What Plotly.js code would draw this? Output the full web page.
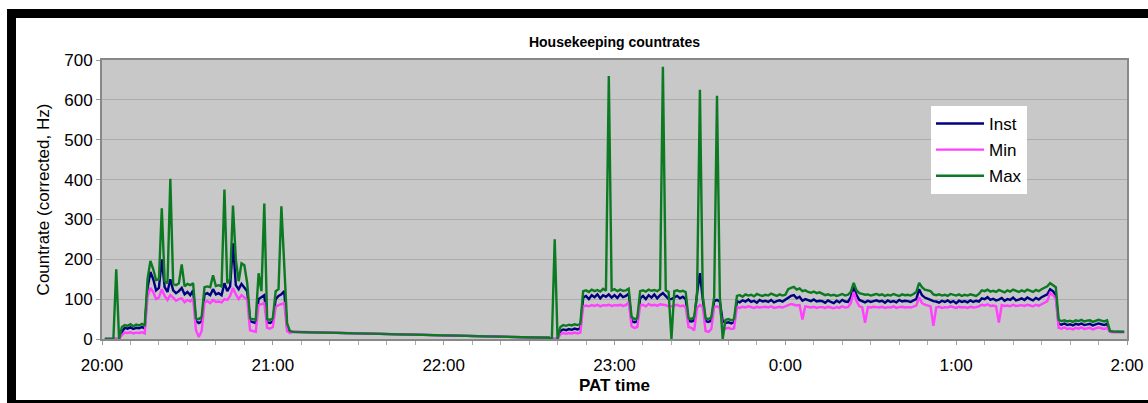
<!DOCTYPE html>
<html>
<head>
<meta charset="utf-8">
<script src="https://cdn.plot.ly/plotly-3.0.1.min.js"></script>
<style>
  html, body { margin: 0; padding: 0; background: #ffffff; overflow: hidden; }
  #chart { position: absolute; left: 0; top: 0; width: 1148px; height: 403px; }
  #frame { position: absolute; left: 7px; top: 9px; width: 1160px; height: 400px;
           border: 9px solid #000; box-sizing: border-box; pointer-events: none; }
</style>
</head>
<body>
<div id="chart"></div>
<div id="frame"></div>
<script>
// Time of each sample, in minutes after 20:00 (PAT)
const minutesAfter20h = [
  1,2,3,4,5,6,7,8,9,10,11,12,13,14,15,16,17,18,19,20,
  21,22,23,24,25,26,27,28,29,30,31,32,33,34,35,36,37,38,39,40,
  41,42,43,44,45,46,47,48,49,50,51,52,53,54,55,56,57,58,59,60,
  61,62,63,64,65,66,67,
  157,158,159,160,
  161,162,163,164,165,166,167,168,169,170,171,172,173,174,175,176,177,178,179,180,
  181,182,183,184,185,186,187,188,189,190,191,192,193,194,195,196,197,198,199,200,
  201,202,203,204,205,206,207,208,209,210,211,212,213,214,215,216,217,218,219,220,
  221,222,
  223,224,225,226,227,228,229,230,231,232,233,234,235,236,237,238,239,240,241,242,
  243,244,245,246,247,248,249,250,251,252,253,254,255,256,257,258,259,260,261,262,
  263,264,265,266,267,268,269,270,271,272,273,274,275,276,277,278,279,280,281,282,
  283,284,285,286,287,288,289,290,291,292,293,294,295,296,297,298,299,300,301,302,
  303,304,305,306,307,308,309,310,311,312,313,314,315,316,317,318,319,320,321,322,
  323,324,325,326,327,328,329,330,331,332,333,334,335,
  336,337,338,339,340,341,342,343,344,345,346,347,348,349,350,351,352,353,
  354,355,356,357,358,359
];

const instRate = [
  0,0,0,0,0,0,18,28,26,29, 25,28,27,30,26,128,168,150,122,128,
  200,130,118,150,122,115,120,128,112,118, 110,122,45,40,44,112,115,110,125,112,
  115,110,140,120,132,240,135,125,138,130, 120,45,42,40,100,105,110,42,40,44,
  100,108,112,120,30,18,18,
  3,0,0,0,
  20,24,22,25,23,26,24,27,104,108, 100,110,105,112,102,110,106,112,104,110,
  103,112,105,108,114,45,42,44,102,108, 100,110,104,112,102,110,115,108,100,100,
  104,108,102,106,100,45,44,46,115,165, 100,45,43,46,95,98,94,45,40,42,
  39,42,
  95,92,97,94,99,93,96,91,98,94, 96,93,98,92,95,97,94,99,104,108,
  110,102,106,96,100,97,95,99,94,96, 95,91,97,93,90,96,92,98,94,93,
  105,130,110,98,95,92,96,93,95,97, 94,96,91,97,93,95,92,98,94,96,
  95,93,97,100,125,110,104,100,98,95, 94,91,96,93,97,92,95,90,96,93,
  95,92,97,93,96,94,102,100,105,98, 101,97,99,103,96,100,98,104,97,99,
  102,98,104,100,97,103,99,105,108,112, 125,120,110,
  38,36,39,35,37,34,38,36,39,35,37,38,34,36,39,37,35,38,
  19,18,18,18,18,18
];

const minRate = [
  0,0,0,0,0,0,10,16,15,17, 14,16,15,17,14,106,128,118,100,104,
  125,108,98,110,104,96,100,102,92,98, 94,102,22,5,20,92,95,90,98,93,
  94,92,100,98,108,128,112,100,110,105, 98,22,20,18,85,88,90,28,26,30,
  80,85,88,90,20,15,18,
  3,0,0,0,
  12,15,13,15,14,16,14,16,82,84, 82,85,83,86,82,85,84,86,83,85,
  84,86,83,85,92,32,28,30,84,86, 82,88,84,86,83,87,86,85,82,82,
  84,86,82,84,80,30,28,22,78,85, 80,20,18,25,80,82,78,30,26,28,
  25,27,
  80,78,81,79,82,80,78,81,79,80, 81,79,82,78,80,81,79,82,85,88,
  86,84,85,49,82,80,79,81,78,80, 80,78,81,79,77,80,78,82,79,80,
  90,118,95,82,80,41,80,79,81,80, 79,81,78,80,79,82,78,80,81,79,
  80,79,81,84,105,90,86,84,82,33, 79,81,78,80,79,82,80,78,81,79,
  80,78,81,79,80,82,86,84,87,83, 84,82,41,85,83,84,82,86,83,84,
  85,83,86,84,82,86,83,87,90,95, 115,110,100,
  28,26,29,25,27,24,28,26,29,25,27,28,24,26,29,27,25,28,
  18,17,17,17,17,17
];

const maxRate = [
  0,0,0,0,175,0,30,35,33,37, 32,36,34,38,33,150,196,175,148,150,
  328,145,140,402,138,135,140,187,132,138, 135,140,52,50,55,130,132,130,160,133,
  135,132,375,140,150,335,200,145,190,185, 140,52,50,48,165,120,340,50,48,52,
  120,125,333,165,40,20,18,
  3,0,250,0,
  30,35,33,36,34,37,35,38,120,122, 118,124,120,123,119,126,121,660,122,125,
  120,124,121,122,126,55,50,52,120,122, 119,124,121,123,120,125,683,122,118,0,
  120,122,119,121,118,52,50,55,112,625, 108,52,50,54,105,610,106,0,48,50,
  47,50,
  108,110,106,112,109,111,107,113,110,108, 111,109,114,110,108,112,109,111,125,128,
  131,124,127,120,122,118,116,119,115,117, 113,110,112,109,111,108,110,113,109,111,
  118,141,122,115,113,111,112,109,111,113, 110,112,108,111,109,113,110,108,112,110,
  111,109,113,118,141,130,124,122,120,112, 110,112,109,111,108,113,110,109,112,108,
  111,109,112,110,108,113,122,120,124,119, 121,118,123,120,117,122,119,124,120,118,
  122,119,124,121,118,123,120,125,128,132, 140,136,130,
  48,45,47,44,46,43,47,45,48,44,46,47,43,45,48,46,44,47,
  20,19,19,18,19,18
];

const seriesNames = ['Inst', 'Min', 'Max'];
const seriesColors = ['#000080', '#ff40ff', '#0b7a22'];

function toDateString(m) {
  const ms = Date.UTC(2024, 0, 1, 20, 0, 0) + m * 60000;
  return new Date(ms).toISOString().slice(0, 19).replace('T', ' ');
}
const xDates = minutesAfter20h.map(toDateString);

const font = 'Liberation Sans, Arial, sans-serif';
const values = [instRate, minRate, maxRate];
const traces = values.map((v, i) => ({
  type: 'scatter',
  mode: 'lines',
  name: seriesNames[i],
  x: xDates,
  y: v,
  legendgroup: 'g' + i,
  line: { color: seriesColors[i], width: 2.4 }
}));

const layout = {
  width: 1148,
  height: 403,
  margin: { l: 102, r: 21, t: 60, b: 64 },
  paper_bgcolor: '#ffffff',
  plot_bgcolor: '#c8c8c8',
  font: { family: font, size: 17, color: '#000' },
  title: {
    text: '<b>Housekeeping countrates</b>',
    font: { family: font, size: 14, color: '#000' },
    x: 0.5, xref: 'paper', xanchor: 'center',
    y: 1 - 42 / 403, yref: 'container', yanchor: 'middle'
  },
  xaxis: {
    type: 'date',
    range: ['2024-01-01 20:00:00', '2024-01-02 02:00:00'],
    dtick: 3600000,
    tick0: '2024-01-01 20:00:00',
    tickformat: '%-H:%M',
    ticks: 'outside', ticklen: 4, tickcolor: '#999', tickwidth: 1,
    ticklabelstandoff: 6,
    minor: { dtick: 600000, ticks: 'outside', ticklen: 4, tickcolor: '#aaa', showgrid: false },
    showgrid: false,
    showline: true, mirror: true, linecolor: '#888', linewidth: 2,
    tickfont: { family: font, size: 17 },
    title: { text: '<b>PAT time</b>', font: { family: font, size: 17 }, standoff: 5 },
    automargin: false
  },
  yaxis: {
    range: [0, 700],
    dtick: 100,
    ticks: 'outside', ticklen: 4, tickcolor: '#999', tickwidth: 1,
    showgrid: true, gridcolor: '#acacac', gridwidth: 1,
    zeroline: false,
    showline: true, mirror: true, linecolor: '#888', linewidth: 2,
    tickfont: { family: font, size: 17 },
    title: { text: 'Countrate (corrected, Hz)', font: { family: font, size: 17 }, standoff: 10 },
    automargin: false
  },
  showlegend: true,
  legend: {
    x: (931 - 102) / 1025, xanchor: 'left',
    y: (339 - 106) / 279, yanchor: 'top',
    bgcolor: '#ffffff', borderwidth: 0,
    font: { family: font, size: 17 },
    itemwidth: 48,
    tracegroupgap: 1
  }
};

Plotly.newPlot('chart', traces, layout, { staticPlot: true, displayModeBar: false });
</script>
</body>
</html>
